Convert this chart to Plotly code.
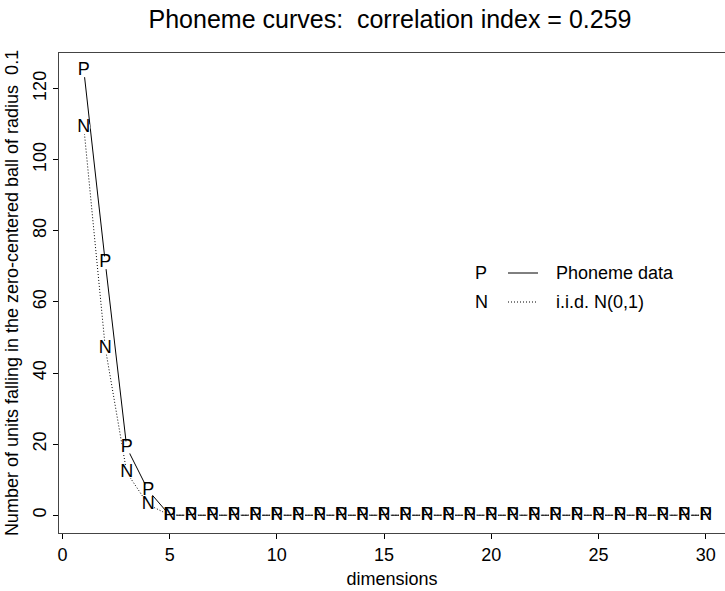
import plotly.graph_objects as go

dims = list(range(1, 31))
phoneme = [125, 71, 19, 7] + [0] * 26
iid = [109, 47, 12, 3] + [0] * 26
title_text = "Phoneme curves:  correlation index = 0.259"
xlab = "dimensions"
ylab = "Number of units falling in the zero-centered ball of radius  0.1"
legend_labels = ["Phoneme data", "i.i.d. N(0,1)"]
legend_chars = ["P", "N"]
xticks = [0, 5, 10, 15, 20, 25, 30]
yticks = [0, 20, 40, 60, 80, 100, 120]

FONT = "Liberation Sans, Arial, Helvetica, sans-serif"
W, H = 725, 591
ML, MR, MT, MB = 59, 0, 53, 58
DOT = "1px,2px"

fig = go.Figure()
# lines
fig.add_trace(go.Scatter(x=dims, y=phoneme, mode="lines",
                         line=dict(color="black", width=1), hoverinfo="skip"))
fig.add_trace(go.Scatter(x=dims, y=iid, mode="lines",
                         line=dict(color="black", width=1, dash=DOT), hoverinfo="skip"))
# white gaps around the plotting characters
for ys in (phoneme, iid):
    fig.add_trace(go.Scatter(x=dims, y=ys, mode="markers",
                             marker=dict(color="white", size=13, line=dict(width=0)),
                             hoverinfo="skip"))
# letters
for ys, ch in ((phoneme, "P"), (iid, "N")):
    fig.add_trace(go.Scatter(x=dims, y=ys, mode="text", text=[ch] * len(dims),
                             textposition="middle center",
                             textfont=dict(family=FONT, size=18, color="black"),
                             hoverinfo="skip"))

# legend (manual, R style)
rows_y = [273, 302]
for i, (ch, lab) in enumerate(zip(legend_chars, legend_labels)):
    yp = 1 - (rows_y[i] - MT) / (H - MT - MB)
    fig.add_annotation(xref="paper", yref="paper", x=(481 - ML) / (W - ML - MR), y=yp,
                       text=ch, showarrow=False, xanchor="center", yanchor="middle",
                       font=dict(family=FONT, size=18, color="black"))
    fig.add_annotation(xref="paper", yref="paper", x=(554 - ML) / (W - ML - MR), y=yp,
                       text=lab, showarrow=False, xanchor="left", yanchor="middle",
                       font=dict(family=FONT, size=18, color="black"))
    fig.add_shape(type="line", xref="paper", yref="paper",
                  x0=(508 - ML) / (W - ML - MR), x1=(538 - ML) / (W - ML - MR),
                  y0=yp, y1=yp,
                  line=dict(color="black", width=1, dash="solid" if i == 0 else DOT))

fig.update_layout(
    width=W, height=H,
    margin=dict(l=ML, r=MR, t=MT, b=MB),
    paper_bgcolor="white", plot_bgcolor="white",
    showlegend=False,
    font=dict(family=FONT, size=18, color="black"),
    title=dict(text=title_text, xref="container", yref="container",
               x=390 / W, xanchor="center", y=1 - 19 / H, yanchor="middle",
               font=dict(family=FONT, size=25, color="black")),
    xaxis=dict(range=[-0.16, 30.9], tickvals=xticks, ticks="outside", ticklen=5,
               tickcolor="black", showgrid=False, zeroline=False,
               showline=True, mirror=True, linecolor="#444", linewidth=1,
               tickfont=dict(family=FONT, size=18, color="black"),
               title=dict(text=xlab, standoff=8,
                          font=dict(family=FONT, size=18, color="black"))),
    yaxis=dict(range=[-5, 130], tickvals=yticks, ticks="outside", ticklen=5,
               tickcolor="black", showgrid=False, zeroline=False,
               showline=True, mirror=False, linecolor="#444", linewidth=1,
               tickangle=-90,
               tickfont=dict(family=FONT, size=18, color="black"),
               title=dict(text=ylab, standoff=6,
                          font=dict(family=FONT, size=18, color="black"))),
)

fig.write_html("out.html")
